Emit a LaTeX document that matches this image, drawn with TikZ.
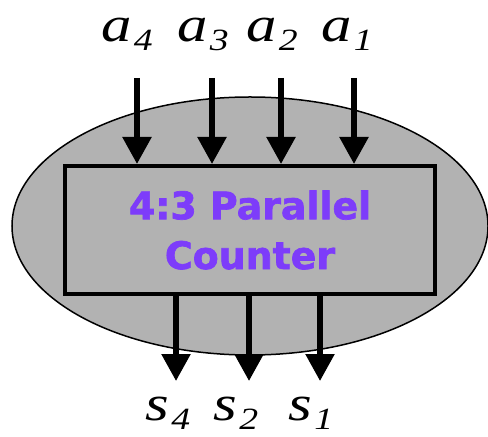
\documentclass[tikz,border=0pt]{standalone}
\usepackage{fontspec}
\setmainfont{Liberation Serif}
\newfontfamily\sigfont[FakeStretch=1.22]{Liberation Serif}
\newfontfamily\boxfont[BoldFeatures={FakeBold=1.8}]{DejaVu Sans}
\usepackage{xcolor}
\usepackage{tikz}
\usetikzlibrary{shapes.geometric,arrows.meta,positioning}
\definecolor{cntpurple}{RGB}{125,60,250}
\definecolor{shellgray}{RGB}{178,178,178}
\tikzset{
  shell/.style={ellipse, draw, line width=1.5bp, fill=shellgray, minimum width=476bp, minimum height=258bp, inner sep=0pt},
  cntbox/.style={rectangle, draw, line width=4bp, minimum width=370bp, minimum height=128bp, align=center, text=cntpurple, font=\boxfont\bfseries\fontsize{38}{50}\selectfont},
  sig/.style={anchor=base, inner sep=0pt, font=\sigfont\itshape\fontsize{50}{50}\selectfont},
  wire/.style={-{Triangle[length=27bp,width=28bp]}, line width=5.5bp},
}
\newcommand{\sigsub}[1]{\kern2bp\raisebox{-9bp}[0pt][0pt]{\fontsize{31}{31}\selectfont #1}}

\begin{document}
\begin{tikzpicture}[x=1bp, y=-1bp]
  \useasboundingbox (0,0) rectangle (488,437);

  % Oval and counter block
  \node[shell] (shell) at (250,226) {};
  \node[cntbox] (cnt) at (250,230) {4:3 Parallel\\Counter};

  % Inputs
  \foreach \x/\n in {137/4, 212/3, 281/2, 354/1} {
    \coordinate (in\n) at (\x,78);
    \draw[wire] (in\n) -- (in\n |- cnt.north);
  }
  \node[sig] (a4) at (127,42) {a\sigsub{4}};
  \node[sig] (a3) at (203,42) {a\sigsub{3}};
  \node[sig] (a2) at (272,42) {a\sigsub{2}};
  \node[sig] (a1) at (347,42) {a\sigsub{1}};

  % Outputs
  \foreach \x/\n in {176/4, 249/2, 320/1} {
    \coordinate (out\n) at (\x,381);
    \draw[wire] (cnt.south -| out\n) -- (out\n);
  }
  \node[sig] (s4) at (168,420) {s\sigsub{4}};
  \node[sig] (s2) at (236,420) {s\sigsub{2}};
  \node[sig] (s1) at (311,420) {s\sigsub{1}};

\end{tikzpicture}
\end{document}
